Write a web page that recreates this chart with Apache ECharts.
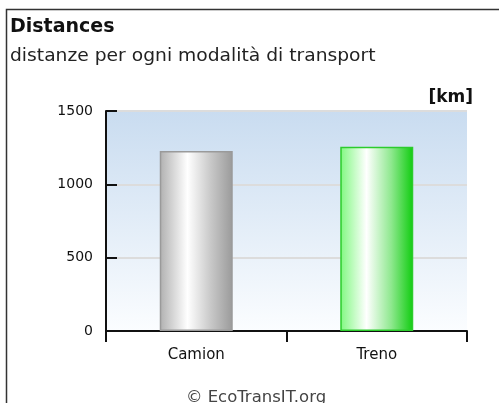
<!DOCTYPE html>
<html>
<head>
<meta charset="utf-8">
<script src="https://cdn.jsdelivr.net/npm/echarts@6/dist/echarts.min.js"></script>
<style>html,body{margin:0;padding:0;background:#fff;}#c{width:499px;height:403px;}</style>
</head>
<body>
<div id="c"></div>
<script>
const titleText = 'Distances';
const subtitleText = 'distanze per ogni modalità di transport';
const unitText = '[km]';
const footerText = '© EcoTransIT.org';
const categories = ['Camion', 'Treno'];
const distances = [1227, 1257];
const yTickValues = [0, 500, 1000, 1500];

const barStyles = [
  {stops: [['#b0b0b0', 0], ['#ffffff', 0.38], ['#c8c8c8', 0.7], ['#9a9a9a', 1]], border: '#9a9a9a'},
  {stops: [['#80f880', 0], ['#ffffff', 0.36], ['#8ee88e', 0.7], ['#0fcc0f', 1]], border: '#2ccc2c'}
];
function grad(stops) {
  return new echarts.graphic.LinearGradient(0, 0, 1, 0, stops.map(s => ({color: s[0], offset: s[1]})));
}

const chart = echarts.init(document.getElementById('c'), null, {renderer: 'canvas'});
const font = 'DejaVu Sans';
chart.setOption({
  animation: false,
  backgroundColor: '#ffffff',
  title: [
    {text: titleText, left: 5, top: 13, textStyle: {fontFamily: font, fontSize: 19, fontWeight: 'bold', color: '#111'}},
    {text: unitText, right: 21, top: 84, textStyle: {fontFamily: font, fontSize: 17, fontWeight: 'bold', color: '#111'}}
  ],
  graphic: [
    {
      type: 'rect', z: 100, silent: true,
      shape: {x: 6.5, y: 9.5, width: 600, height: 500},
      style: {fill: null, stroke: '#333', lineWidth: 1.5}
    },
    {
      type: 'text', x: 10, y: 48, scaleX: 1.1, silent: true,
      style: {text: subtitleText, font: 'normal 17px "DejaVu Sans"', fill: '#222', textVerticalAlign: 'top'}
    },
    {
      type: 'text', x: 256, y: 391, scaleX: 1.1, silent: true,
      style: {text: footerText, font: 'normal 15px "DejaVu Sans"', fill: '#444', textAlign: 'center', textVerticalAlign: 'top'}
    }
  ],
  grid: {
    left: 106, right: 32, top: 111, bottom: 72,
    show: true, borderWidth: 0,
    backgroundColor: new echarts.graphic.LinearGradient(0, 0, 0, 1, [
      {offset: 0, color: '#c9dcf0'}, {offset: 1, color: '#fbfdff'}
    ])
  },
  xAxis: {
    type: 'category', data: categories,
    axisLine: {lineStyle: {color: '#111', width: 2}},
    axisTick: {show: true, length: 11, lineStyle: {color: '#111', width: 2}},
    axisLabel: {fontFamily: font, fontSize: 15, color: '#111', margin: 17}
  },
  yAxis: {
    type: 'value', min: yTickValues[0], max: yTickValues[yTickValues.length - 1], interval: yTickValues[1] - yTickValues[0],
    axisLine: {show: true, lineStyle: {color: '#111', width: 2}},
    axisTick: {show: true, inside: true, length: 11, lineStyle: {color: '#111', width: 2}},
    axisLabel: {fontFamily: font, fontSize: 14, color: '#111', margin: 13, formatter: v => String(v)},
    splitLine: {show: true, lineStyle: {color: '#dcdcdc', width: 2}}
  },
  series: [{
    type: 'bar', barWidth: 73,
    data: distances.map((v, i) => ({
      value: v,
      itemStyle: {color: grad(barStyles[i].stops), borderColor: barStyles[i].border, borderWidth: 1.5}
    }))
  }]
});
</script>
</body>
</html>
